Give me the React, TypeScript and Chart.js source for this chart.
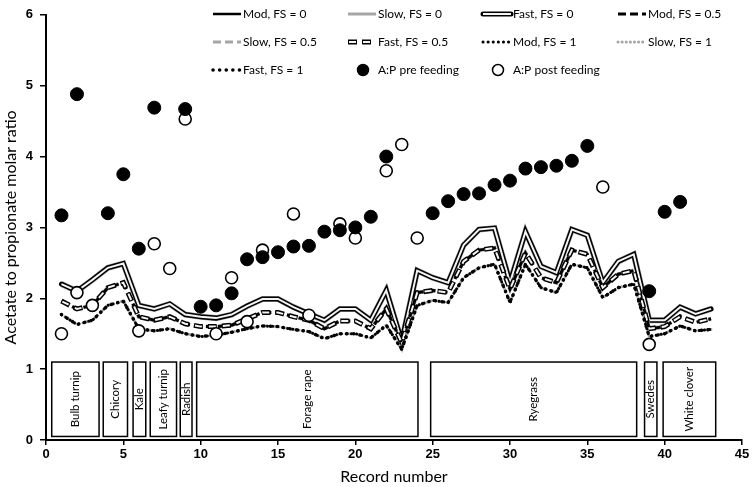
import React, { useEffect, useRef } from 'react';
import { Chart, registerables } from 'chart.js';

Chart.register(...registerables);

// ---------- data ----------
const recordNumbers = [
  1, 2, 3, 4, 5, 6, 7, 8, 9, 10, 11, 12, 13, 14, 15, 16, 17, 18, 19, 20, 21, 22,
  23, 24, 25, 26, 27, 28, 29, 30, 31, 32, 33, 34, 35, 36, 37, 38, 39, 40, 41, 42, 43,
];

// Predicted A:P, FS = 0 (Mod, Slow and Fast coincide at the figure's resolution)
const predFS0 = [
  2.2, 2.1, 2.26, 2.43, 2.49, 1.9, 1.85, 1.92, 1.77, 1.74, 1.72, 1.77, 1.89, 1.99, 1.99,
  1.875, 1.78, 1.69, 1.85, 1.85, 1.69, 2.11, 1.39, 2.39, 2.29, 2.22, 2.75, 2.97, 2.99,
  2.22, 2.94, 2.45, 2.36, 2.97, 2.89, 2.22, 2.52, 2.62, 1.69, 1.69, 1.875, 1.78, 1.85,
];
// Predicted A:P, FS = 0.5
const predFS05 = [
  1.96, 1.85, 1.9, 2.15, 2.22, 1.74, 1.69, 1.74, 1.64, 1.6, 1.6, 1.62, 1.71, 1.8, 1.8,
  1.74, 1.69, 1.57, 1.68, 1.68, 1.57, 1.85, 1.37, 2.08, 2.11, 2.08, 2.52, 2.68, 2.71,
  2.13, 2.64, 2.29, 2.22, 2.68, 2.62, 2.15, 2.34, 2.39, 1.57, 1.6, 1.74, 1.66, 1.71,
];
// Predicted A:P, FS = 1
const predFS1 = [
  1.77, 1.63, 1.69, 1.9, 1.96, 1.57, 1.54, 1.57, 1.5, 1.46, 1.48, 1.52, 1.57, 1.61, 1.6,
  1.56, 1.53, 1.43, 1.5, 1.5, 1.44, 1.62, 1.28, 1.9, 1.97, 1.94, 2.29, 2.43, 2.48,
  1.94, 2.48, 2.15, 2.08, 2.48, 2.43, 2.01, 2.15, 2.2, 1.46, 1.5, 1.61, 1.54, 1.56,
];

const preRecords = [
  1, 2, 4, 5, 6, 7, 9, 10, 11, 12, 13, 14, 15, 16, 17, 18, 19, 20, 21, 22,
  25, 26, 27, 28, 29, 30, 31, 32, 33, 34, 35, 39, 40, 41,
];
const preValues = [
  3.17, 4.88, 3.2, 3.75, 2.7, 4.69, 4.67, 1.88, 1.9, 2.07, 2.55, 2.58, 2.65, 2.73, 2.74,
  2.94, 2.96, 3.0, 3.15, 4.0, 3.2, 3.37, 3.47, 3.48, 3.6, 3.66, 3.83, 3.85, 3.87, 3.94,
  4.15, 2.1, 3.22, 3.36,
];

const postRecords = [1, 2, 3, 6, 7, 8, 9, 11, 12, 13, 14, 16, 17, 19, 20, 22, 23, 24, 36, 39];
const postValues = [
  1.5, 2.08, 1.9, 1.54, 2.77, 2.42, 4.53, 1.5, 2.29, 1.67, 2.68, 3.19, 1.76, 3.05, 2.85,
  3.8, 4.17, 2.85, 3.57, 1.35,
];

const cropNames = [
  'Bulb turnip', 'Chicory', 'Kale', 'Leafy turnip', 'Radish', 'Forage rape', 'Ryegrass',
  'Swedes', 'White clover',
];
const cropStart = [0.37, 3.7, 5.63, 6.74, 8.68, 9.74, 24.87, 38.7, 39.9];
const cropEnd = [3.43, 5.27, 6.45, 8.44, 9.44, 24.05, 38.19, 39.5, 43.3];
const cropBoxTop = 1.1;
const cropBoxBottom = 0.05;

const xTicksMin = 0;
const xTicksMax = 45;
const xTickStep = 5;
const yTicksMin = 0;
const yTicksMax = 6;
const yTickStep = 1;

// ---------- styles ----------
type LStyle = {
  color: string;
  width: number;
  dash: number[];
  cap: CanvasLineCap;
  legendWidth?: number;
  inner?: { color: string; width: number; dash: number[]; offset: number };
};

const GRAY = '#a6a6a6';
const INNER = '#f4f4f4';

const sModFS0: LStyle = { color: '#000', width: 2, dash: [], cap: 'butt', legendWidth: 2.5 };
const sSlowFS0: LStyle = { color: GRAY, width: 6, dash: [], cap: 'butt', legendWidth: 3 };
const sFastFS0: LStyle = {
  color: '#000', width: 5, dash: [], cap: 'round',
  inner: { color: INNER, width: 2, dash: [], offset: 0 },
};
const sModFS05: LStyle = { color: '#000', width: 3, dash: [8, 4], cap: 'butt' };
const sSlowFS05: LStyle = { color: GRAY, width: 4, dash: [8, 4], cap: 'butt', legendWidth: 3 };
const sFastFS05: LStyle = {
  color: '#000', width: 5, dash: [9, 5], cap: 'butt',
  inner: { color: INNER, width: 2, dash: [7, 7], offset: -1 },
};
const sModFS1: LStyle = { color: '#000', width: 3, dash: [0.1, 5], cap: 'round' };
const sSlowFS1: LStyle = { color: GRAY, width: 3, dash: [0.1, 4], cap: 'round' };
const sFastFS1: LStyle = { color: '#000', width: 3.5, dash: [0.1, 6.5], cap: 'round' };

type LegendItem = { label: string; style?: LStyle; point?: string };
const legendItems: LegendItem[] = [
  { label: 'Mod, FS = 0', style: sModFS0 },
  { label: 'Slow, FS = 0', style: sSlowFS0 },
  { label: 'Fast, FS = 0', style: sFastFS0 },
  { label: 'Mod, FS = 0.5', style: sModFS05 },
  { label: 'Slow, FS = 0.5', style: sSlowFS05 },
  { label: 'Fast, FS = 0.5', style: sFastFS05 },
  { label: 'Mod, FS = 1', style: sModFS1 },
  { label: 'Slow, FS = 1', style: sSlowFS1 },
  { label: 'Fast, FS = 1', style: sFastFS1 },
  { label: 'A:P pre feeding', point: '#000' },
  { label: 'A:P post feeding', point: '#fff' },
];
const legendColX = [213, 348, 483, 618];
const legendRowY = [14, 42, 70];

const FONT = 'Lato, "Open Sans", sans-serif';

function toXY(xs: number[], ys: number[]) {
  return xs.map((x, i) => ({ x, y: ys[i] }));
}

function lineSets(label: string, values: number[], st: LStyle, order: number) {
  const base: any = {
    type: 'line',
    label,
    data: toXY(recordNumbers, values),
    borderColor: st.color,
    borderWidth: st.width,
    borderDash: st.dash,
    borderCapStyle: st.cap,
    borderJoinStyle: 'miter',
    pointRadius: 0,
    fill: false,
    tension: 0,
    order: order,
  };
  const out: any[] = [base];
  if (st.inner) {
    out.push({
      type: 'line',
      label: label + ' (inner)',
      data: toXY(recordNumbers, values),
      borderColor: st.inner.color,
      borderWidth: st.inner.width,
      borderDash: st.inner.dash,
      borderDashOffset: st.inner.offset,
      borderCapStyle: 'butt',
      borderJoinStyle: 'miter',
      pointRadius: 0,
      fill: false,
      tension: 0,
      order: order - 0.5,
    });
  }
  return out;
}

function strokeSample(ctx: CanvasRenderingContext2D, st: LStyle, x0: number, x1: number, y: number) {
  ctx.save();
  ctx.strokeStyle = st.color;
  ctx.lineWidth = st.legendWidth ?? st.width;
  ctx.setLineDash(st.dash);
  ctx.lineCap = st.cap;
  ctx.beginPath();
  ctx.moveTo(x0, y);
  ctx.lineTo(x1, y);
  ctx.stroke();
  if (st.inner) {
    ctx.strokeStyle = st.inner.color;
    ctx.lineWidth = st.inner.width;
    ctx.setLineDash(st.inner.dash);
    ctx.lineDashOffset = st.inner.offset;
    ctx.lineCap = 'butt';
    ctx.beginPath();
    ctx.moveTo(x0, y);
    ctx.lineTo(x1, y);
    ctx.stroke();
  }
  ctx.restore();
}

const gridLegendPlugin = {
  id: 'gridLegend',
  afterDraw(chart: any) {
    const ctx: CanvasRenderingContext2D = chart.ctx;
    ctx.save();
    ctx.font = `12px ${FONT}`;
    ctx.textBaseline = 'middle';
    ctx.textAlign = 'left';
    legendItems.forEach((item, i) => {
      const x0 = legendColX[i % 4];
      const y = legendRowY[Math.floor(i / 4)];
      if (item.point) {
        ctx.beginPath();
        ctx.arc(x0 + 15, y, 5.5, 0, Math.PI * 2);
        ctx.fillStyle = item.point;
        ctx.fill();
        ctx.lineWidth = 1.5;
        ctx.strokeStyle = '#000';
        ctx.stroke();
      } else if (item.style) {
        strokeSample(ctx, item.style, x0, x0 + 28, y);
      }
      ctx.fillStyle = '#000';
      ctx.fillText(item.label, x0 + 30, y + 0.5);
    });
    ctx.restore();
  },
};

const cropBoxPlugin = {
  id: 'cropBoxes',
  afterDatasetsDraw(chart: any) {
    const ctx: CanvasRenderingContext2D = chart.ctx;
    const xs = chart.scales.x;
    const ys = chart.scales.y;
    ctx.save();
    ctx.strokeStyle = '#000';
    ctx.lineWidth = 1.5;
    ctx.fillStyle = '#000';
    ctx.font = `11.5px ${FONT}`;
    ctx.textAlign = 'center';
    ctx.textBaseline = 'middle';
    cropNames.forEach((name, i) => {
      const l = xs.getPixelForValue(cropStart[i]);
      const r = xs.getPixelForValue(cropEnd[i]);
      const t = ys.getPixelForValue(cropBoxTop);
      const b = ys.getPixelForValue(cropBoxBottom);
      ctx.strokeRect(l, t, r - l, b - t);
      ctx.save();
      ctx.translate((l + r) / 2, (t + b) / 2);
      ctx.rotate(-Math.PI / 2);
      ctx.fillText(name, 0, 0);
      ctx.restore();
    });
    ctx.restore();
  },
};

export default function App() {
  const canvasRef = useRef<HTMLCanvasElement | null>(null);

  useEffect(() => {
    if (!canvasRef.current) return;
    const datasets: any[] = [
      {
        type: 'line',
        label: 'A:P pre feeding',
        data: toXY(preRecords, preValues),
        showLine: false,
        pointRadius: 6.5,
        pointBackgroundColor: '#000',
        pointBorderColor: '#000',
        pointBorderWidth: 1,
        order: 0,
      },
      {
        type: 'line',
        label: 'A:P post feeding',
        data: toXY(postRecords, postValues),
        showLine: false,
        pointRadius: 6,
        pointBackgroundColor: '#fff',
        pointBorderColor: '#000',
        pointBorderWidth: 1.6,
        order: 1,
      },
      ...lineSets('Fast, FS = 1', predFS1, sFastFS1, 3),
      ...lineSets('Mod, FS = 1', predFS1, sModFS1, 4),
      ...lineSets('Slow, FS = 1', predFS1, sSlowFS1, 5),
      ...lineSets('Fast, FS = 0.5', predFS05, sFastFS05, 7),
      ...lineSets('Mod, FS = 0.5', predFS05, sModFS05, 8),
      ...lineSets('Slow, FS = 0.5', predFS05, sSlowFS05, 9),
      ...lineSets('Fast, FS = 0', predFS0, sFastFS0, 11),
      ...lineSets('Mod, FS = 0', predFS0, sModFS0, 12),
      ...lineSets('Slow, FS = 0', predFS0, sSlowFS0, 13),
    ];

    const chart = new Chart(canvasRef.current, {
      type: 'line',
      data: { datasets },
      plugins: [cropBoxPlugin, gridLegendPlugin],
      options: {
        animation: false,
        responsive: true,
        maintainAspectRatio: false,
        events: [],
        layout: { padding: { top: 8, right: 11, left: 0, bottom: 0 } },
        plugins: {
          legend: { display: false },
          tooltip: { enabled: false },
        },
        scales: {
          x: {
            type: 'linear',
            min: xTicksMin,
            max: xTicksMax,
            afterFit: (s: any) => { s.height = 47; },
            ticks: {
              stepSize: xTickStep,
              color: '#000',
              padding: 2,
              font: { family: '"Liberation Sans", Arial, sans-serif', size: 13, weight: 'bold' },
            },
            grid: { drawOnChartArea: false, color: '#000', lineWidth: 1.5, tickLength: 5 },
            border: { color: '#000', width: 2 },
            title: {
              display: true,
              text: 'Record number',
              color: '#000',
              font: { family: FONT, size: 16 },
              padding: { top: 0, bottom: 1 },
            },
          },
          y: {
            type: 'linear',
            min: yTicksMin,
            max: yTicksMax,
            afterFit: (s: any) => { s.width = 46; },
            ticks: {
              stepSize: yTickStep,
              color: '#000',
              padding: 7,
              font: { family: '"Liberation Sans", Arial, sans-serif', size: 13, weight: 'bold' },
            },
            grid: { drawOnChartArea: false, color: '#000', lineWidth: 1.5, tickLength: 6 },
            border: { color: '#000', width: 2 },
            title: {
              display: true,
              text: 'Acetate to propionate molar ratio',
              color: '#000',
              font: { family: FONT, size: 16 },
              padding: { top: 1, bottom: 0 },
            },
          },
        },
      } as any,
    });
    return () => chart.destroy();
  }, []);

  return (
    <div style={{ position: 'fixed', left: 0, top: 0, width: 753, height: 487, background: '#fff' }}>
      <canvas ref={canvasRef} />
    </div>
  );
}
